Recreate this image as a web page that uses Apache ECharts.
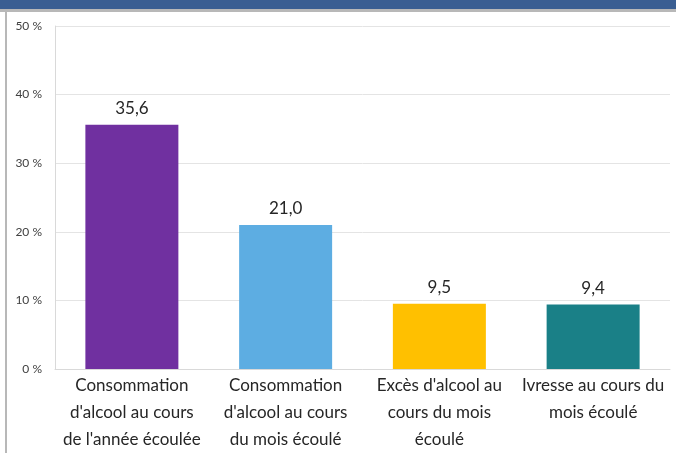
<!DOCTYPE html>
<html style="height: 100%">
<head>
    <meta charset="utf-8">
    <script src="https://cdn.jsdelivr.net/npm/echarts@6/dist/echarts.min.js"></script>
</head>
<body style="height: 100%; margin: 0; background: #fff">
    <div id="container" style="width: 676px; height: 453px"></div>
    <script type="text/javascript">
        var categories = [
            "Consommation\nd'alcool au cours\nde l'année écoulée",
            "Consommation\nd'alcool au cours\ndu mois écoulé",
            "Excès d'alcool au\ncours du mois\nécoulé",
            "Ivresse au cours du\nmois écoulé"
        ];
        var values = [35.6, 21.0, 9.5, 9.4];
        var colors = ['#7030a0', '#5dade2', '#ffc000', '#1a8087'];

        var myChart = echarts.init(document.getElementById('container'));
        var option = {
            animation: false,
            graphic: [
                { type: 'rect', shape: { x: 0, y: 0, width: 676, height: 9 }, style: { fill: '#3a5e92' } },
                { type: 'rect', shape: { x: 0, y: 9, width: 676, height: 3 }, style: { fill: '#b8b8b8' } },
                { type: 'rect', shape: { x: 5, y: 12, width: 2, height: 441 }, style: { fill: '#b8b8b8' } }
            ],
            grid: { left: 55, right: 6, top: 26, bottom: 83 },
            xAxis: {
                type: 'category',
                data: categories,
                axisLine: { show: true, lineStyle: { color: '#d9d9d9' } },
                axisTick: { show: false },
                axisLabel: {
                    interval: 0,
                    color: '#262626',
                    fontFamily: 'Lato',
                    fontSize: 17,
                    lineHeight: 27,
                    margin: 3
                }
            },
            yAxis: {
                type: 'value',
                min: 0,
                max: 50,
                interval: 10,
                axisLine: { show: true, lineStyle: { color: '#d9d9d9' } },
                splitLine: { lineStyle: { color: '#e4e4e4' } },
                axisLabel: {
                    color: '#404040',
                    fontFamily: 'Lato',
                    fontSize: 12,
                    margin: 13,
                    formatter: '{value} %'
                }
            },
            series: [{
                type: 'bar',
                barWidth: 93,
                data: values.map(function (v, i) {
                    return { value: v, itemStyle: { color: colors[i] } };
                }),
                label: {
                    show: true,
                    position: 'top',
                    distance: 8,
                    color: '#262626',
                    fontFamily: 'Lato',
                    fontSize: 17,
                    formatter: function (p) { return p.value.toFixed(1).replace('.', ','); }
                }
            }]
        };
        myChart.setOption(option);
    </script>
</body>
</html>
